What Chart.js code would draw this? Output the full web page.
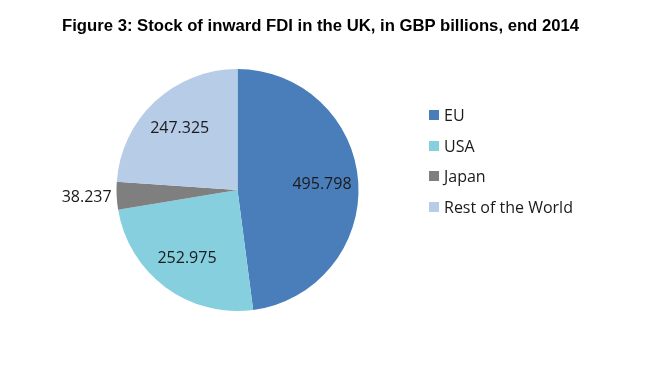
<!DOCTYPE html>
<html lang="en">
<head>
    <meta charset="UTF-8">
    <title>Stock of inward FDI in the UK</title>
    <style>
        * {
            box-sizing: border-box;
            margin: 0;
            padding: 0;
        }
        body {
            width: 661px;
            height: 368px;
            background-color: #fff;
            position: relative;
            overflow: hidden;
        }
        .title {
            position: absolute;
            left: 62px;
            top: 16px;
            font-family: "Liberation Sans", Arial, sans-serif;
            font-weight: bold;
            font-size: 16.7px;
            color: #000;
            white-space: nowrap;
        }
        #chartBox {
            position: absolute;
            left: 0;
            top: 0;
            width: 661px;
            height: 368px;
        }
        #legend {
            position: absolute;
            left: 429px;
            top: 100px;
            list-style: none;
            font-family: "Open Sans", sans-serif;
            font-size: 16px;
            color: #1a1a1a;
        }
        #legend li {
            display: flex;
            align-items: center;
            height: 30.5px;
        }
        #legend .box {
            width: 10px;
            height: 10px;
            margin-right: 5px;
        }
    </style>
    <script src="https://cdn.jsdelivr.net/npm/chart.js"></script>
</head>
<body>
    <div id="chartBox"><canvas id="pieChart" width="661" height="368"></canvas></div>
    <div class="title">Figure 3: Stock of inward FDI in the UK, in GBP billions, end 2014</div>
    <ul id="legend"></ul>

    <script>
        const regions = ['EU', 'USA', 'Japan', 'Rest of the World'];
        const stockValues = [495.798, 252.975, 38.237, 247.325];
        const sliceColors = ['#4a7ebb', '#85cfdf', '#7f7f7f', '#b7cce6'];

        // draw the value on each slice, small slices get the label outside
        const valueLabels = {
            id: 'valueLabels',
            afterDatasetsDraw(chart) {
                const ctx = chart.ctx;
                const meta = chart.getDatasetMeta(0);
                const total = stockValues.reduce((a, b) => a + b, 0);
                ctx.save();
                ctx.font = '16px "Open Sans", sans-serif';
                ctx.fillStyle = '#1a1a1a';
                ctx.textBaseline = 'middle';
                meta.data.forEach((arc, i) => {
                    const p = arc.getProps(['x', 'y', 'startAngle', 'endAngle', 'outerRadius'], true);
                    const mid = (p.startAngle + p.endAngle) / 2;
                    const text = stockValues[i].toFixed(3);
                    if (stockValues[i] / total < 0.05) {
                        const r = p.outerRadius + 5;
                        ctx.textAlign = 'right';
                        ctx.fillText(text, p.x + Math.cos(mid) * r, p.y + Math.sin(mid) * r + 1);
                    } else {
                        const r = p.outerRadius * 0.7;
                        ctx.textAlign = 'center';
                        ctx.fillText(text, p.x + Math.cos(mid) * r, p.y + Math.sin(mid) * r);
                    }
                });
                ctx.restore();
            }
        };

        const chart = new Chart(document.getElementById('pieChart'), {
            type: 'pie',
            data: {
                labels: regions,
                datasets: [{
                    data: stockValues,
                    backgroundColor: sliceColors,
                    borderWidth: 0
                }]
            },
            options: {
                responsive: false,
                animation: false,
                layout: {
                    padding: { top: 69, bottom: 57, left: 116, right: 302 }
                },
                plugins: {
                    legend: { display: false },
                    title: { display: false },
                    tooltip: { enabled: false }
                }
            },
            plugins: [valueLabels]
        });

        // legend built from the same arrays
        const legendEl = document.getElementById('legend');
        regions.forEach((name, i) => {
            const li = document.createElement('li');
            const box = document.createElement('span');
            box.className = 'box';
            box.style.backgroundColor = sliceColors[i];
            li.appendChild(box);
            li.appendChild(document.createTextNode(name));
            legendEl.appendChild(li);
        });
    </script>
</body>
</html>
